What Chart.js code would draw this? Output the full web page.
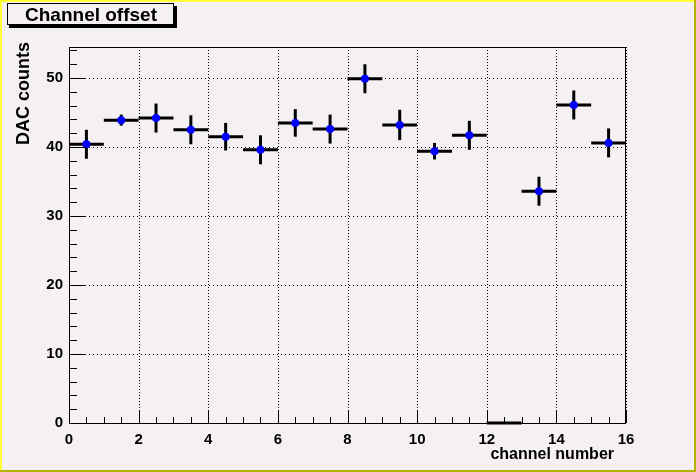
<!DOCTYPE html>
<html>
<head>
<meta charset="utf-8">
<title>Channel offset</title>
<script src="https://cdn.jsdelivr.net/npm/chart.js@4/dist/chart.umd.min.js"></script>
<style>
  html, body { margin: 0; padding: 0; background: #f4f0f4; }
  canvas { display: block; }
</style>
</head>
<body>
<canvas id="offsetChart" width="696" height="472"></canvas>
<script>
// Channel offsets (DAC counts) per channel bin, with errors
const channels = [0, 1, 2, 3, 4, 5, 6, 7, 8, 9, 10, 11, 12, 13, 14, 15];
const offsets = [40.4, 43.9, 44.2, 42.5, 41.5, 39.6, 43.5, 42.6, 49.9, 43.2, 39.4, 41.7, 0, 33.6, 46.1, 40.6];
const offsetErrors = [2.1, 0.8, 2.1, 2.1, 2.0, 2.1, 2.0, 2.1, 2.1, 2.2, 1.2, 2.1, 0, 2.1, 2.1, 2.1];
const binWidth = 1;

// Axis ranges and tick spacing
const xRange = [0, 16];
const yRange = [0, 54.5];
const xMajorTicks = [0, 2, 4, 6, 8, 10, 12, 14, 16];
const yMajorTicks = [0, 10, 20, 30, 40, 50];
const xMinorStep = 0.5;
const yMinorStep = 2;

const FONT = '"Liberation Sans", Arial, Helvetica, sans-serif';

document.addEventListener('DOMContentLoaded', function() {
  initChart();
});

// Canvas background, grid and ROOT-style raised frame
const backgroundPlugin = {
  id: 'rootBackground',
  beforeDraw: function(chart) {
    const ctx = chart.ctx;
    const w = chart.width, h = chart.height;
    const area = chart.chartArea;
    const xs = chart.scales.x, ys = chart.scales.y;

    ctx.save();
    ctx.fillStyle = '#f4f0f4';
    ctx.fillRect(0, 0, w, h);

    // dotted grid at the major ticks
    ctx.strokeStyle = '#000';
    ctx.lineWidth = 1;
    ctx.setLineDash([1, 2]);
    xMajorTicks.forEach(function(v) {
      const px = Math.round(xs.getPixelForValue(v)) + 0.5;
      ctx.beginPath();
      ctx.moveTo(px, area.top);
      ctx.lineTo(px, area.bottom);
      ctx.stroke();
    });
    ctx.setLineDash([1, 3]);
    yMajorTicks.forEach(function(v) {
      const py = Math.round(ys.getPixelForValue(v)) + 0.5;
      ctx.beginPath();
      ctx.moveTo(area.left, py);
      ctx.lineTo(area.right, py);
      ctx.stroke();
    });
    ctx.restore();
  }
};

// Error crosses drawn under the markers
const errorBarPlugin = {
  id: 'errorBars',
  beforeDatasetsDraw: function(chart) {
    const ctx = chart.ctx;
    const xs = chart.scales.x, ys = chart.scales.y;
    ctx.save();
    ctx.strokeStyle = '#000';
    ctx.lineWidth = 3;
    channels.forEach(function(ch, i) {
      const y = ys.getPixelForValue(offsets[i]);
      const xc = xs.getPixelForValue(ch + binWidth / 2);
      ctx.beginPath();
      ctx.moveTo(xs.getPixelForValue(ch), y);
      ctx.lineTo(xs.getPixelForValue(ch + binWidth), y);
      ctx.stroke();
      if (offsetErrors[i] > 0) {
        ctx.beginPath();
        ctx.moveTo(xc, ys.getPixelForValue(offsets[i] - offsetErrors[i]));
        ctx.lineTo(xc, ys.getPixelForValue(offsets[i] + offsetErrors[i]));
        ctx.stroke();
      }
    });
    ctx.restore();
  }
};

// Frame, inside ticks, axis titles, title box, pad border
const decorPlugin = {
  id: 'rootDecor',
  afterDraw: function(chart) {
    const ctx = chart.ctx;
    const w = chart.width, h = chart.height;
    const area = chart.chartArea;
    const xs = chart.scales.x, ys = chart.scales.y;
    ctx.save();

    // frame
    ctx.strokeStyle = '#000';
    ctx.lineWidth = 1;
    ctx.strokeRect(Math.round(area.left) + 0.5, Math.round(area.top) + 0.5,
      Math.round(area.right - area.left) - 1, Math.round(area.bottom - area.top));

    // x ticks pointing up into the frame
    ctx.beginPath();
    for (let v = xRange[0]; v <= xRange[1] + 1e-9; v += xMinorStep) {
      const px = Math.round(xs.getPixelForValue(v)) + 0.5;
      const len = xMajorTicks.indexOf(v) >= 0 ? 12 : 6;
      ctx.moveTo(px, area.bottom);
      ctx.lineTo(px, area.bottom - len);
    }
    // y ticks pointing right into the frame
    for (let v = yRange[0]; v <= yRange[1] + 1e-9; v += yMinorStep) {
      const py = Math.round(ys.getPixelForValue(v)) + 0.5;
      const len = yMajorTicks.indexOf(v) >= 0 ? 17 : 8;
      ctx.moveTo(area.left, py);
      ctx.lineTo(area.left + len, py);
    }
    ctx.stroke();

    // axis titles, right aligned like ROOT
    ctx.fillStyle = '#000';
    ctx.font = 'bold 16px ' + FONT;
    ctx.textAlign = 'right';
    ctx.textBaseline = 'alphabetic';
    ctx.fillText('channel number', 614, 459);

    ctx.save();
    ctx.translate(29, area.top - 5);
    ctx.rotate(-Math.PI / 2);
    ctx.font = 'bold 18px ' + FONT;
    ctx.textAlign = 'right';
    ctx.fillText('DAC counts', 0, 0);
    ctx.restore();

    // title box with shadow
    ctx.fillStyle = '#000';
    ctx.fillRect(9, 6, 168, 22);
    ctx.fillStyle = '#f4f0f4';
    ctx.fillRect(7, 3, 167, 22);
    ctx.strokeStyle = '#000';
    ctx.lineWidth = 1;
    ctx.strokeRect(7.5, 3.5, 166, 21);
    ctx.fillStyle = '#000';
    ctx.font = 'bold 19px ' + FONT;
    ctx.textAlign = 'center';
    ctx.fillText('Channel offset', 91, 21);

    // raised pad border
    ctx.fillStyle = '#ffff33';
    ctx.fillRect(0, 0, w, 2);
    ctx.fillRect(0, 0, 2, h);
    ctx.fillStyle = '#b4b400';
    ctx.fillRect(w - 2, 0, 2, h);
    ctx.fillRect(0, h - 2, w, 2);
    ctx.restore();
  }
};

function initChart() {
  const ctx = document.getElementById('offsetChart').getContext('2d');
  const points = channels.map(function(ch, i) {
    return { x: ch + binWidth / 2, y: offsets[i] };
  });

  new Chart(ctx, {
    type: 'scatter',
    data: {
      datasets: [{
        label: 'Channel offset',
        data: points,
        backgroundColor: '#0000ff',
        borderColor: '#0000ff',
        borderWidth: 0,
        pointRadius: offsets.map(function(v, i) { return offsetErrors[i] > 0 ? 4 : 0; }),
        pointHoverRadius: 4
      }]
    },
    options: {
      responsive: false,
      animation: false,
      events: [],
      layout: {
        padding: { top: 47, right: 70, left: 0, bottom: 0 }
      },
      plugins: {
        legend: { display: false },
        title: { display: false },
        tooltip: { enabled: false }
      },
      scales: {
        x: {
          type: 'linear',
          min: xRange[0],
          max: xRange[1],
          afterFit: function(scale) { scale.height = 49; },
          afterBuildTicks: function(scale) {
            scale.ticks = xMajorTicks.map(function(v) { return { value: v }; });
          },
          grid: { display: false, drawTicks: false },
          border: { display: false },
          ticks: {
            padding: 8,
            color: '#000',
            font: { family: FONT, size: 15, weight: 'bold' },
            maxRotation: 0
          }
        },
        y: {
          type: 'linear',
          min: yRange[0],
          max: yRange[1],
          afterFit: function(scale) { scale.width = 69; },
          afterBuildTicks: function(scale) {
            scale.ticks = yMajorTicks.map(function(v) { return { value: v }; });
          },
          grid: { display: false, drawTicks: false },
          border: { display: false },
          ticks: {
            padding: 6,
            color: '#000',
            font: { family: FONT, size: 15, weight: 'bold' }
          }
        }
      }
    },
    plugins: [backgroundPlugin, errorBarPlugin, decorPlugin]
  });
}
</script>
</body>
</html>
